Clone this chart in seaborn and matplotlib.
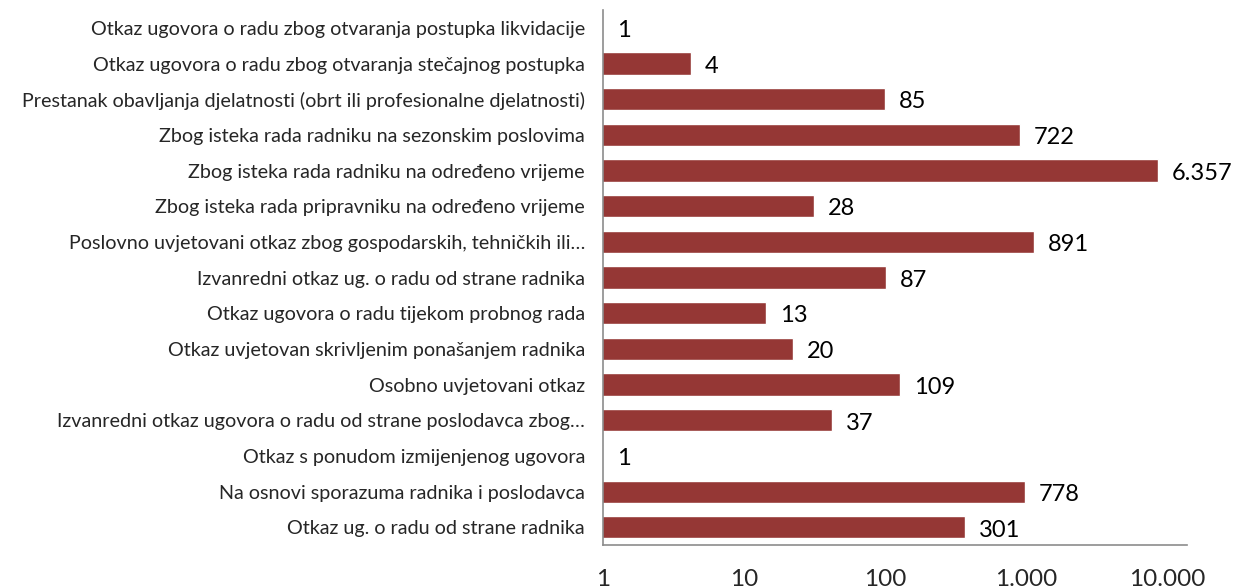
import matplotlib
matplotlib.use("Agg")
import matplotlib.pyplot as plt
import matplotlib.transforms as mtransforms
import seaborn as sns
import pandas as pd
from matplotlib.ticker import FixedLocator, NullLocator

# Data (top row first)
categories = [
    "Otkaz ugovora o radu zbog otvaranja postupka likvidacije",
    "Otkaz ugovora o radu zbog otvaranja stečajnog postupka",
    "Prestanak obavljanja djelatnosti (obrt ili profesionalne djelatnosti)",
    "Zbog isteka rada radniku na sezonskim poslovima",
    "Zbog isteka rada radniku na određeno vrijeme",
    "Zbog isteka rada pripravniku na određeno vrijeme",
    "Poslovno uvjetovani otkaz zbog gospodarskih, tehničkih ili…",
    "Izvanredni otkaz ug. o radu od strane radnika",
    "Otkaz ugovora o radu tijekom probnog rada",
    "Otkaz uvjetovan skrivljenim ponašanjem radnika",
    "Osobno uvjetovani otkaz",
    "Izvanredni otkaz ugovora o radu od strane poslodavca zbog…",
    "Otkaz s ponudom izmijenjenog ugovora",
    "Na osnovi sporazuma radnika i poslodavca",
    "Otkaz ug. o radu od strane radnika",
]
values = [1, 4, 85, 722, 6357, 28, 891, 87, 13, 20, 109, 37, 1, 778, 301]
x_ticks = [1, 10, 100, 1000, 10000]

bar_color = "#953735"
axis_color = "#8c8c8c"


def fmt(v):
    return f"{v:,}".replace(",", ".")


df = pd.DataFrame({"category": categories, "value": values})

sns.set_style("white")
plt.rcParams["font.family"] = ["Lato", "DejaVu Sans"]

fig = plt.figure(figsize=(12.37, 5.88), dpi=100)
ax = fig.add_axes([0.4875, 0.073, 0.472, 0.910])
ax.set_xscale("log")

sns.barplot(data=df, y="category", x="value", order=categories, color=bar_color,
            saturation=1, width=0.62, orient="h", ax=ax)

ax.set_xlim(1, 10000)
ax.set_ylim(len(categories) - 0.5, -0.5)

# value labels to the right of each bar
for i, v in enumerate(values):
    ax.annotate(fmt(v), xy=(v, i), xytext=(10, -2), textcoords="offset points",
                va="center", ha="left", fontsize=17, color="black")

ax.xaxis.set_major_locator(FixedLocator(x_ticks))
ax.xaxis.set_minor_locator(NullLocator())
ax.set_xticklabels([fmt(t) for t in x_ticks], fontsize=17.5)
ax.tick_params(axis="x", length=0, pad=17)
ax.tick_params(axis="y", length=0, pad=13, labelsize=14.2)

# Excel squeezes the tick labels slightly to the left, nudge them the same way
for i, lbl in enumerate(ax.get_xticklabels()):
    shift = mtransforms.ScaledTranslation(-0.05 * i, 0, fig.dpi_scale_trans)
    lbl.set_transform(lbl.get_transform() + shift)

ax.set_xlabel("")
ax.set_ylabel("")
for s in ["top", "right"]:
    ax.spines[s].set_visible(False)
for s in ["left", "bottom"]:
    ax.spines[s].set_color(axis_color)
    ax.spines[s].set_linewidth(1.2)

fig.savefig("out.png", dpi=100, facecolor="white")
plt.close(fig)
